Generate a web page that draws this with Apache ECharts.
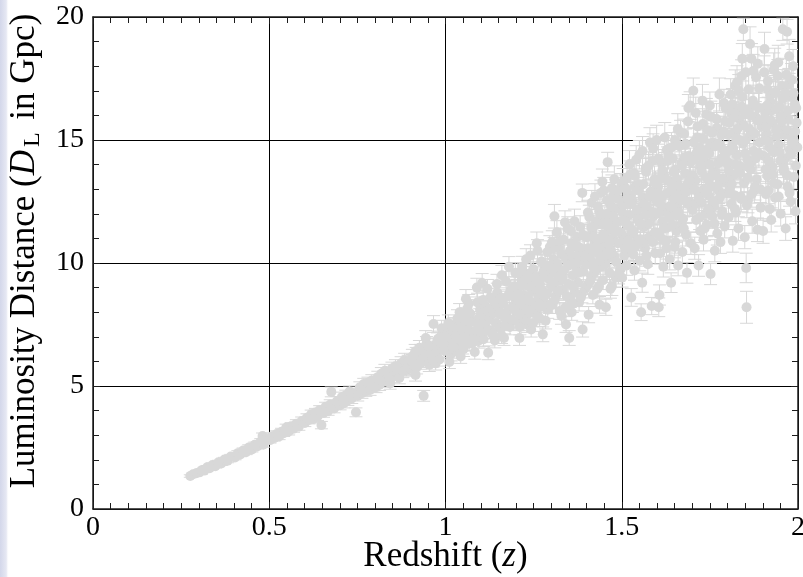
<!DOCTYPE html>
<html>
<head>
<meta charset="utf-8">
<script src="https://cdn.jsdelivr.net/npm/echarts@6/dist/echarts.min.js"></script>
<style>
  html, body { margin: 0; padding: 0; background: #ffffff; }
  #chart { width: 803px; height: 577px; }
</style>
</head>
<body>
<div id="chart"></div>
<script>
// Simulated standard-siren sample: redshift, luminosity distance (Gpc) and 1-sigma error.
const redshift = [
  0.276, 0.284, 0.293,
  0.302, 0.309, 0.316, 0.324, 0.331, 0.339, 0.347, 0.356, 0.364, 0.373, 0.382, 0.391,
  0.403, 0.411, 0.418, 0.426, 0.434, 0.442, 0.451, 0.459, 0.467, 0.476, 0.481, 0.484, 0.493,
  0.502, 0.508, 0.515, 0.521, 0.528, 0.535, 0.541, 0.548, 0.555, 0.562, 0.569, 0.577, 0.584, 0.592,
  0.601, 0.607, 0.613, 0.619, 0.625, 0.631, 0.637, 0.643, 0.648, 0.654, 0.660, 0.667, 0.673, 0.676, 0.684, 0.692,
  0.701, 0.706, 0.712, 0.717, 0.723, 0.728, 0.734, 0.740, 0.746, 0.751, 0.757, 0.763, 0.768, 0.774, 0.780, 0.786, 0.791, 0.797,
  0.803, 0.808, 0.813, 0.818, 0.823, 0.828, 0.833, 0.838, 0.843, 0.848, 0.853, 0.858, 0.864, 0.869, 0.874, 0.879, 0.884, 0.889, 0.894, 0.898,
  0.902, 0.906, 0.910, 0.914, 0.918, 0.922, 0.926, 0.930, 0.934, 0.938, 0.942, 0.946, 0.950, 0.954, 0.958, 0.962, 0.966, 0.970, 0.975, 0.979, 0.983, 0.987, 0.992, 0.996, 0.915, 0.944, 0.972, 0.989,
  1.002, 1.006, 1.009, 1.013, 1.016, 1.020, 1.024, 1.027, 1.031, 1.035, 1.038, 1.040, 1.045, 1.049, 1.052, 1.056, 1.060, 1.063, 1.067, 1.070, 1.074, 1.078, 1.081, 1.085, 1.089, 1.092, 1.095, 1.098, 1.011, 1.043, 1.066, 1.083, 1.104, 1.058,
  1.101, 1.105, 1.108, 1.112, 1.115, 1.118, 1.121, 1.124, 1.127, 1.131, 1.134, 1.137, 1.140, 1.144, 1.147, 1.150, 1.153, 1.157, 1.160, 1.163, 1.166, 1.170, 1.173, 1.176, 1.180, 1.183, 1.186, 1.190, 1.193, 1.197,
  1.201, 1.204, 1.207, 1.210, 1.213, 1.216, 1.219, 1.222, 1.225, 1.228, 1.231, 1.234, 1.237, 1.240, 1.243, 1.246, 1.249, 1.252, 1.255, 1.258, 1.261, 1.264, 1.267, 1.270, 1.273, 1.276, 1.280, 1.283, 1.287, 1.290, 1.293, 1.296,
  1.301, 1.304, 1.306, 1.309, 1.312, 1.315, 1.318, 1.321, 1.324, 1.327, 1.330, 1.333, 1.336, 1.339, 1.342, 1.345, 1.348, 1.351, 1.354, 1.357, 1.358, 1.361, 1.364, 1.367, 1.370, 1.373, 1.376, 1.379, 1.382, 1.385, 1.388, 1.389, 1.391, 1.394, 1.396, 1.399,
  1.401, 1.403, 1.406, 1.408, 1.411, 1.413, 1.416, 1.418, 1.421, 1.423, 1.426, 1.428, 1.431, 1.433, 1.436, 1.437, 1.440, 1.442, 1.445, 1.447, 1.450, 1.452, 1.455, 1.457, 1.460, 1.462, 1.465, 1.467, 1.470, 1.472, 1.475, 1.477, 1.480, 1.483, 1.486, 1.489, 1.493, 1.497,
  1.501, 1.503, 1.505, 1.507, 1.510, 1.512, 1.514, 1.517, 1.519, 1.521, 1.524, 1.527, 1.529, 1.531, 1.534, 1.536, 1.539, 1.541, 1.544, 1.546, 1.549, 1.551, 1.555, 1.558, 1.560, 1.563, 1.566, 1.568, 1.571, 1.574, 1.577, 1.580, 1.582, 1.585, 1.588, 1.590, 1.593, 1.595, 1.597, 1.599,
  1.601, 1.603, 1.605, 1.607, 1.609, 1.611, 1.614, 1.616, 1.618, 1.621, 1.623, 1.626, 1.628, 1.631, 1.633, 1.636, 1.638, 1.640, 1.643, 1.645, 1.648, 1.650, 1.653, 1.655, 1.658, 1.660, 1.663, 1.665, 1.667, 1.670, 1.672, 1.675, 1.677, 1.680, 1.682, 1.685, 1.687, 1.689, 1.691, 1.694, 1.696, 1.698,
  1.701, 1.703, 1.705, 1.707, 1.709, 1.711, 1.714, 1.716, 1.718, 1.720, 1.723, 1.725, 1.727, 1.730, 1.732, 1.734, 1.737, 1.739, 1.741, 1.744, 1.746, 1.748, 1.750, 1.752, 1.755, 1.757, 1.759, 1.762, 1.764, 1.766, 1.769, 1.771, 1.773, 1.776, 1.778, 1.780, 1.783, 1.785, 1.788, 1.790, 1.792, 1.794, 1.796, 1.798,
  1.801, 1.803, 1.805, 1.807, 1.809, 1.811, 1.813, 1.815, 1.818, 1.820, 1.822, 1.824, 1.826, 1.829, 1.831, 1.833, 1.835, 1.837, 1.840, 1.842, 1.844, 1.845, 1.847, 1.849, 1.851, 1.853, 1.854, 1.856, 1.858, 1.860, 1.862, 1.864, 1.866, 1.868, 1.870, 1.872, 1.874, 1.876, 1.879, 1.881, 1.883, 1.885, 1.888, 1.891, 1.894, 1.897,
  1.901, 1.903, 1.905, 1.907, 1.909, 1.911, 1.913, 1.915, 1.918, 1.920, 1.922, 1.924, 1.926, 1.928, 1.931, 1.933, 1.935, 1.937, 1.940, 1.942, 1.944, 1.946, 1.948, 1.951, 1.953, 1.955, 1.957, 1.959, 1.961, 1.963, 1.965, 1.967, 1.969, 1.971, 1.973, 1.975, 1.977, 1.979, 1.981, 1.983, 1.986, 1.988, 1.991, 1.993, 1.996, 1.998,
  // second batch of events, z > 1
  1.004, 1.018, 1.029, 1.047, 1.054, 1.072, 1.087, 1.097,
  1.103, 1.117, 1.129, 1.142, 1.155, 1.168, 1.181, 1.195,
  1.203, 1.209, 1.214, 1.221, 1.227, 1.232, 1.238, 1.244, 1.250, 1.256, 1.262, 1.268, 1.274, 1.281, 1.288, 1.295,
  1.302, 1.308, 1.314, 1.320, 1.326, 1.332, 1.338, 1.344, 1.350, 1.356, 1.362, 1.368, 1.375, 1.381, 1.387, 1.393,
  1.402, 1.409, 1.415, 1.422, 1.428, 1.434, 1.441, 1.447, 1.453, 1.459, 1.466, 1.472, 1.478, 1.484, 1.490, 1.496,
  1.502, 1.508, 1.515, 1.520, 1.526, 1.533, 1.538, 1.545, 1.550, 1.557, 1.562, 1.569, 1.575, 1.581, 1.587, 1.594,
  1.602, 1.608, 1.615, 1.620, 1.627, 1.632, 1.639, 1.644, 1.651, 1.657, 1.662, 1.669, 1.674, 1.681, 1.686, 1.693,
  1.702, 1.708, 1.715, 1.721, 1.728, 1.733, 1.740, 1.745, 1.751, 1.758, 1.763, 1.770, 1.775, 1.782, 1.787, 1.793,
  1.802, 1.808, 1.814, 1.819, 1.825, 1.832, 1.838, 1.843, 1.850, 1.855, 1.861, 1.867, 1.873, 1.878, 1.884, 1.890,
  1.902, 1.908, 1.914, 1.919, 1.925, 1.932, 1.938, 1.943, 1.950, 1.956, 1.962, 1.968, 1.974, 1.980, 1.987, 1.994,
  // third batch of events, z > 0.9
  0.905, 0.917, 0.929, 0.941, 0.953, 0.965, 0.977, 0.993,
  1.008, 1.022, 1.034, 1.051, 1.062, 1.076, 1.091, 1.099,
  1.107, 1.119, 1.133, 1.146, 1.159, 1.172, 1.185, 1.198,
  1.205, 1.211, 1.218, 1.224, 1.229, 1.236, 1.241, 1.248, 1.254, 1.259, 1.266, 1.271, 1.278, 1.284, 1.289, 1.298,
  1.303, 1.310, 1.316, 1.323, 1.329, 1.335, 1.341, 1.347, 1.353, 1.360, 1.366, 1.372, 1.378, 1.384, 1.390, 1.397,
  1.404, 1.410, 1.417, 1.424, 1.429, 1.435, 1.443, 1.449, 1.454, 1.461, 1.468, 1.474, 1.479, 1.485, 1.491, 1.498,
  1.504, 1.509, 1.516, 1.522, 1.528, 1.535, 1.540, 1.547, 1.553, 1.559, 1.565, 1.570, 1.576, 1.583, 1.589, 1.596,
  1.604, 1.610, 1.617, 1.622, 1.629, 1.635, 1.641, 1.646, 1.652, 1.659, 1.664, 1.671, 1.676, 1.683, 1.688, 1.695,
  1.704, 1.710, 1.717, 1.722, 1.729, 1.735, 1.742, 1.747, 1.753, 1.760, 1.765, 1.772, 1.777, 1.784, 1.789, 1.795,
  1.804, 1.810, 1.816, 1.821, 1.827, 1.834, 1.839, 1.846, 1.852, 1.857, 1.863, 1.869, 1.875, 1.880, 1.886, 1.893,
  1.904, 1.910, 1.916, 1.921, 1.927, 1.934, 1.939, 1.945, 1.952, 1.958, 1.964, 1.970, 1.976, 1.982, 1.989, 1.995,
  // fourth batch of events, z > 1.4
  1.405, 1.414, 1.420, 1.427, 1.432, 1.439, 1.446, 1.451, 1.458, 1.464, 1.476, 1.488,
  1.506, 1.513, 1.518, 1.525, 1.532, 1.537, 1.543, 1.552, 1.561, 1.567, 1.579, 1.591,
  1.606, 1.612, 1.619, 1.625, 1.630, 1.637, 1.647, 1.654, 1.661, 1.668, 1.679, 1.692,
  1.706, 1.713, 1.719, 1.726, 1.731, 1.738, 1.749, 1.756, 1.767, 1.774, 1.781, 1.791,
  1.806, 1.812, 1.817, 1.823, 1.828, 1.836, 1.841, 1.848, 1.859, 1.865, 1.877, 1.889,
  1.906, 1.912, 1.917, 1.923, 1.929, 1.936, 1.947, 1.954, 1.960, 1.972, 1.984, 1.992
];

const distance = [
  1.34, 1.41, 1.45,
  1.49, 1.58, 1.56, 1.70, 1.66, 1.79, 1.74, 1.90, 1.85, 2.01, 1.96, 2.13,
  2.09, 2.27, 2.22, 2.38, 2.31, 2.50, 2.42, 2.61, 2.55, 2.74, 2.97, 2.62, 2.85,
  2.80, 2.96, 2.89, 3.05, 2.95, 3.14, 3.08, 3.30, 3.15, 3.36, 3.26, 3.47, 3.35, 3.58,
  3.50, 3.71, 3.62, 3.85, 3.66, 3.92, 3.76, 4.02, 3.41, 3.90, 4.16, 3.98, 4.25, 4.76, 4.09, 4.38,
  4.22, 4.55, 4.30, 4.62, 4.41, 4.78, 4.49, 4.70, 3.93, 4.60, 4.95, 4.71, 5.08, 4.80, 5.13, 4.84, 5.22, 4.98,
  4.95, 5.36, 5.05, 5.50, 5.18, 5.62, 5.24, 5.45, 5.10, 5.71, 5.40, 5.80, 5.52, 5.33, 5.92, 5.60, 6.05, 5.66, 5.98, 5.72,
  5.70, 6.21, 5.82, 6.40, 5.75, 6.12, 6.55, 5.95, 6.33, 4.60, 6.02, 6.71, 6.18, 5.86, 6.52, 6.25, 7.52, 6.65, 6.30, 6.92, 6.08, 6.60, 7.05, 6.44, 5.45, 6.95, 5.92, 7.35,
  6.45, 7.10, 6.58, 7.32, 6.30, 6.92, 7.45, 6.70, 6.42, 7.20, 6.85, 8.00, 7.55, 6.60, 7.15, 7.78, 6.88, 7.40, 6.72, 7.95, 7.18, 6.95, 7.62, 7.05, 9.00, 7.50, 6.85, 8.10, 5.98, 6.20, 8.35, 6.38, 9.19, 8.55,
  7.10, 7.85, 6.90, 8.25, 7.40, 8.05, 6.35, 7.70, 8.60, 7.22, 7.95, 8.45, 6.85, 7.55, 8.80, 8.10, 7.35, 7.90, 9.50, 8.35, 6.95, 7.72, 8.62, 8.05, 9.85, 7.40, 8.92, 8.22, 7.65, 8.55,
  8.05, 8.95, 7.60, 6.95, 8.40, 9.30, 7.85, 8.70, 8.15, 9.55, 7.50, 8.55, 9.05, 8.00, 7.30, 8.85, 9.75, 8.30, 7.95, 9.20, 10.50, 8.60, 7.75, 9.45, 8.90, 7.10, 8.40, 9.90, 8.75, 8.10, 9.35, 10.65,
  9.05, 8.30, 10.15, 11.90, 9.60, 8.70, 9.95, 10.60, 8.05, 9.30, 10.35, 8.90, 9.70, 11.65, 7.50, 10.05, 9.15, 6.95, 8.55, 10.80, 8.00, 9.50, 10.25, 8.80, 9.85, 11.05, 9.20, 8.40, 11.46, 10.10, 12.85, 7.30, 9.65, 10.55, 8.95, 9.95,
  10.20, 9.10, 7.90, 11.87, 10.55, 9.45, 11.20, 8.70, 10.00, 10.85, 9.70, 11.55, 8.95, 10.40, 12.10, 8.30, 9.85, 10.95, 13.30, 9.30, 10.65, 11.80, 8.20, 10.15, 14.10, 11.35, 9.60, 12.40, 10.50, 9.05, 11.00, 12.75, 10.25, 9.40, 11.65, 10.80, 12.20, 9.75,
  9.40, 11.10, 12.35, 10.30, 13.05, 11.60, 9.90, 12.80, 10.75, 11.95, 13.60, 8.60, 10.50, 12.50, 11.30, 9.70, 12.00, 14.20, 10.95, 11.75, 13.20, 10.10, 8.00, 9.20, 12.65, 11.45, 10.60, 13.85, 12.20, 9.95, 11.05, 14.90, 12.90, 8.25, 10.85, 11.90, 13.40, 10.40, 12.55, 15.00,
  11.20, 13.10, 8.20, 8.70, 10.40, 12.35, 14.05, 11.70, 9.85, 13.55, 12.10, 10.90, 14.60, 11.45, 12.85, 10.15, 13.30, 9.20, 11.95, 14.25, 12.60, 10.65, 13.80, 11.30, 12.25, 9.90, 14.75, 13.05, 15.30, 11.60, 10.45, 12.70, 15.25, 13.65, 11.15, 9.60, 12.40, 16.30, 14.35, 16.40, 10.80, 13.00,
  12.15, 17.00, 14.20, 10.60, 13.35, 11.75, 15.10, 12.90, 9.90, 14.70, 11.30, 13.85, 12.45, 15.65, 10.95, 14.15, 12.00, 13.50, 11.55, 15.40, 12.75, 14.45, 16.40, 9.55, 13.10, 11.90, 14.90, 12.30, 10.50, 13.70, 15.85, 11.20, 14.05, 12.60, 13.40, 10.85, 15.20, 12.10, 14.60, 16.50, 11.50, 16.30, 13.25, 12.85,
  14.10, 11.85, 15.70, 13.05, 16.85, 12.40, 14.75, 10.90, 15.30, 13.60, 17.20, 12.05, 14.40, 16.20, 11.40, 13.95, 15.85, 12.70, 17.60, 18.30, 14.85, 19.50, 13.25, 11.05, 16.05, 9.80, 8.20, 14.20, 12.55, 17.05, 15.45, 18.90, 13.80, 18.30, 11.70, 16.60, 14.55, 12.95, 15.95, 17.55, 13.40, 11.35, 16.30, 14.90, 12.25, 15.55,
  11.30, 14.35, 18.70, 16.10, 12.80, 15.25, 13.55, 17.40, 14.95, 12.20, 16.55, 11.75, 15.70, 13.90, 17.85, 14.50, 12.65, 16.90, 15.15, 13.20, 18.15, 14.80, 16.35, 12.00, 15.50, 17.20, 19.50, 13.75, 16.00, 14.25, 11.40, 17.65, 19.40, 13.10, 15.85, 18.40, 14.60, 12.50, 16.75, 15.05, 18.00, 13.50, 16.45, 12.10, 15.70, 14.70,
  // second batch of events, z > 1
  6.95, 7.40, 7.00, 7.35, 6.95, 7.60, 7.25, 7.80,
  7.55, 7.25, 8.15, 8.35, 8.55, 7.45, 8.75, 9.05,
  8.60, 7.95, 9.10, 8.25, 7.70, 9.35, 8.45, 9.60, 8.10, 8.95, 7.85, 9.15, 10.05, 8.65, 9.55, 8.30,
  9.75, 10.60, 9.25, 8.85, 10.90, 9.40, 10.30, 8.65, 9.90, 11.30, 9.05, 10.70, 9.60, 10.45, 8.75, 11.10,
  11.05, 10.25, 12.45, 9.60, 11.70, 10.45, 12.85, 11.15, 9.95, 12.00, 10.90, 13.05, 11.50, 10.05, 12.60, 11.25,
  12.05, 10.95, 13.45, 11.50, 12.75, 10.35, 13.10, 11.85, 14.40, 12.30, 10.80, 13.70, 11.60, 12.85, 14.15, 11.25,
  12.85, 11.10, 13.75, 12.20, 10.60, 14.40, 12.95, 11.55, 15.00, 13.40, 12.05, 14.05, 11.80, 14.85, 13.20, 12.45,
  13.55, 12.40, 15.55, 11.85, 14.30, 13.00, 16.05, 12.20, 14.85, 13.65, 11.60, 15.50, 12.95, 14.25, 13.45, 15.75,
  15.20, 13.35, 16.45, 12.75, 15.05, 17.00, 13.90, 16.75, 14.45, 12.35, 16.25, 14.10, 17.80, 13.10, 15.80, 17.10,
  15.85, 13.80, 17.05, 14.70, 16.20, 13.25, 15.40, 17.60, 14.15, 16.70, 15.20, 13.60, 17.25, 14.40, 16.90, 13.95,
  // third batch of events, z > 0.9
  6.00, 6.28, 6.40, 6.35, 6.62, 6.05, 6.85, 6.70,
  7.55, 6.60, 7.75, 6.50, 8.15, 6.75, 8.40, 7.20,
  8.50, 8.95, 7.10, 9.15, 7.05, 9.25, 7.70, 9.60,
  9.60, 7.40, 9.85, 7.95, 10.15, 8.05, 10.30, 7.55, 9.40, 10.80, 8.20, 10.05, 9.65, 7.65, 10.45, 9.85,
  10.85, 8.50, 11.25, 9.45, 7.85, 10.95, 8.20, 11.40, 10.50, 8.35, 11.70, 10.00, 10.65, 8.60, 11.15, 10.30,
  12.05, 9.25, 11.40, 12.70, 10.70, 9.05, 11.95, 12.95, 10.35, 11.60, 8.95, 12.25, 13.40, 11.30, 9.55, 13.10,
  13.30, 10.60, 12.60, 14.00, 11.20, 13.65, 10.70, 12.95, 11.60, 14.55, 12.40, 10.30, 13.95, 12.10, 14.65, 13.20,
  14.25, 12.60, 10.95, 15.10, 13.35, 11.85, 14.70, 13.00, 10.85, 15.45, 12.80, 13.95, 11.40, 12.90, 15.75, 14.10,
  14.90, 16.10, 12.55, 13.95, 16.60, 11.40, 14.60, 13.35, 15.95, 12.50, 14.75, 13.15, 16.85, 11.95, 15.35, 14.10,
  13.75, 16.10, 14.65, 12.20, 17.35, 15.00, 12.60, 15.60, 17.75, 13.45, 15.15, 12.80, 16.45, 14.25, 18.10, 13.00,
  17.75, 15.55, 12.95, 16.80, 14.60, 18.05, 16.25, 12.70, 15.95, 14.05, 16.90, 15.40, 12.85, 17.45, 14.95, 16.30,
  // fourth batch of events, z > 1.4
  10.60, 11.45, 9.80, 11.00, 12.30, 10.10, 11.60, 10.30, 12.55, 10.75, 11.90, 12.95,
  11.75, 13.00, 10.90, 12.40, 11.25, 13.55, 12.15, 10.95, 13.20, 11.95, 12.70, 12.05,
  12.05, 13.45, 11.40, 12.80, 14.15, 12.30, 13.70, 11.95, 13.15, 12.55, 14.30, 13.35,
  13.00, 14.50, 12.65, 13.75, 15.05, 12.85, 14.00, 15.30, 13.55, 14.85, 12.75, 14.35,
  14.55, 13.20, 15.90, 14.00, 15.45, 13.65, 16.35, 14.95, 13.90, 16.00, 15.25, 14.45,
  15.00, 16.40, 14.15, 15.80, 13.60, 16.95, 14.50, 15.75, 13.85, 16.20, 14.85, 15.35
];

const distanceErr = [
  0.05, 0.06, 0.06,
  0.06, 0.06, 0.07, 0.07, 0.07, 0.08, 0.07, 0.08, 0.08, 0.09, 0.08, 0.09,
  0.09, 0.10, 0.09, 0.10, 0.10, 0.11, 0.10, 0.11, 0.11, 0.12, 0.12, 0.11, 0.12,
  0.12, 0.13, 0.12, 0.13, 0.13, 0.14, 0.13, 0.15, 0.14, 0.15, 0.14, 0.16, 0.15, 0.16,
  0.15, 0.16, 0.16, 0.17, 0.16, 0.17, 0.16, 0.18, 0.15, 0.17, 0.18, 0.17, 0.19, 0.20, 0.18, 0.19,
  0.19, 0.20, 0.19, 0.21, 0.20, 0.22, 0.20, 0.21, 0.18, 0.21, 0.22, 0.21, 0.23, 0.22, 0.23, 0.22, 0.24, 0.23,
  0.22, 0.24, 0.23, 0.25, 0.23, 0.26, 0.24, 0.25, 0.23, 0.26, 0.25, 0.27, 0.25, 0.24, 0.27, 0.26, 0.28, 0.26, 0.27, 0.26,
  0.26, 0.28, 0.26, 0.29, 0.26, 0.28, 0.30, 0.27, 0.29, 0.22, 0.27, 0.30, 0.28, 0.27, 0.30, 0.28, 0.34, 0.30, 0.28, 0.31, 0.27, 0.30, 0.32, 0.29, 0.25, 0.30, 0.27, 0.32,
  0.29, 0.32, 0.29, 0.33, 0.28, 0.31, 0.33, 0.30, 0.29, 0.32, 0.31, 0.35, 0.33, 0.30, 0.32, 0.34, 0.31, 0.33, 0.30, 0.35, 0.32, 0.31, 0.34, 0.32, 0.38, 0.33, 0.31, 0.36, 0.27, 0.28, 0.37, 0.29, 0.38, 0.37,
  0.31, 0.34, 0.30, 0.36, 0.32, 0.35, 0.28, 0.34, 0.37, 0.31, 0.34, 0.37, 0.30, 0.33, 0.38, 0.35, 0.32, 0.34, 0.40, 0.36, 0.30, 0.33, 0.37, 0.35, 0.41, 0.32, 0.38, 0.36, 0.33, 0.37,
  0.34, 0.38, 0.33, 0.30, 0.36, 0.40, 0.34, 0.37, 0.35, 0.41, 0.32, 0.37, 0.39, 0.35, 0.31, 0.38, 0.42, 0.36, 0.34, 0.39, 0.45, 0.37, 0.33, 0.40, 0.38, 0.30, 0.36, 0.42, 0.37, 0.35, 0.40, 0.46,
  0.38, 0.35, 0.42, 0.48, 0.40, 0.36, 0.41, 0.44, 0.34, 0.39, 0.43, 0.37, 0.40, 0.47, 0.32, 0.42, 0.38, 0.30, 0.36, 0.44, 0.33, 0.39, 0.42, 0.37, 0.41, 0.45, 0.38, 0.35, 0.46, 0.42, 0.36, 0.31, 0.40, 0.43, 0.37, 0.41,
  0.42, 0.38, 0.33, 0.48, 0.44, 0.39, 0.46, 0.36, 0.41, 0.45, 0.40, 0.47, 0.37, 0.43, 0.50, 0.34, 0.41, 0.45, 0.52, 0.38, 0.44, 0.48, 0.33, 0.42, 0.40, 0.47, 0.39, 0.51, 0.43, 0.37, 0.45, 0.52, 0.42, 0.39, 0.48, 0.44, 0.50, 0.40,
  0.38, 0.45, 0.50, 0.42, 0.53, 0.47, 0.40, 0.52, 0.44, 0.48, 0.55, 0.36, 0.43, 0.51, 0.46, 0.40, 0.49, 0.57, 0.45, 0.48, 0.53, 0.42, 0.34, 0.39, 0.51, 0.47, 0.44, 0.56, 0.50, 0.41, 0.45, 0.60, 0.52, 0.35, 0.44, 0.49, 0.54, 0.43, 0.51, 0.60,
  0.46, 0.53, 0.38, 0.41, 0.44, 0.50, 0.56, 0.47, 0.42, 0.54, 0.49, 0.45, 0.58, 0.47, 0.52, 0.43, 0.53, 0.40, 0.48, 0.57, 0.51, 0.44, 0.55, 0.46, 0.50, 0.42, 0.59, 0.52, 0.50, 0.47, 0.44, 0.51, 0.60, 0.54, 0.46, 0.42, 0.50, 0.55, 0.57, 0.56, 0.45, 0.52,
  0.50, 0.52, 0.58, 0.45, 0.54, 0.49, 0.60, 0.52, 0.44, 0.57, 0.47, 0.55, 0.51, 0.62, 0.46, 0.56, 0.50, 0.54, 0.48, 0.61, 0.52, 0.58, 0.55, 0.43, 0.53, 0.49, 0.59, 0.51, 0.45, 0.55, 0.63, 0.47, 0.56, 0.52, 0.54, 0.46, 0.60, 0.50, 0.58, 0.56, 0.48, 0.54, 0.53, 0.52,
  0.55, 0.49, 0.60, 0.53, 0.64, 0.50, 0.57, 0.46, 0.59, 0.54, 0.65, 0.50, 0.56, 0.62, 0.48, 0.55, 0.60, 0.52, 0.66, 0.62, 0.58, 0.45, 0.53, 0.47, 0.61, 0.60, 0.65, 0.56, 0.51, 0.64, 0.59, 0.70, 0.55, 0.62, 0.49, 0.63, 0.57, 0.52, 0.61, 0.66, 0.54, 0.48, 0.62, 0.58, 0.51, 0.60,
  0.50, 0.58, 0.68, 0.62, 0.52, 0.60, 0.55, 0.66, 0.59, 0.51, 0.63, 0.49, 0.61, 0.56, 0.69, 0.58, 0.53, 0.65, 0.60, 0.55, 0.70, 0.58, 0.63, 0.50, 0.61, 0.66, 0.45, 0.56, 0.62, 0.57, 0.48, 0.67, 0.50, 0.54, 0.62, 0.69, 0.59, 0.52, 0.64, 0.60, 0.68, 0.56, 0.63, 0.51, 0.61, 0.58,
  // second batch of events, z > 1
  0.31, 0.33, 0.31, 0.33, 0.31, 0.34, 0.32, 0.34,
  0.33, 0.32, 0.35, 0.36, 0.36, 0.33, 0.37, 0.38,
  0.36, 0.33, 0.38, 0.35, 0.33, 0.39, 0.36, 0.40, 0.34, 0.38, 0.33, 0.38, 0.42, 0.37, 0.40, 0.35,
  0.41, 0.44, 0.39, 0.37, 0.45, 0.40, 0.43, 0.37, 0.42, 0.47, 0.38, 0.44, 0.41, 0.44, 0.37, 0.46,
  0.45, 0.42, 0.50, 0.40, 0.47, 0.43, 0.52, 0.45, 0.41, 0.49, 0.44, 0.53, 0.46, 0.41, 0.51, 0.46,
  0.49, 0.45, 0.54, 0.47, 0.52, 0.43, 0.53, 0.48, 0.58, 0.50, 0.44, 0.55, 0.47, 0.52, 0.57, 0.46,
  0.52, 0.46, 0.56, 0.50, 0.44, 0.58, 0.53, 0.48, 0.60, 0.54, 0.49, 0.57, 0.48, 0.60, 0.54, 0.51,
  0.55, 0.51, 0.62, 0.49, 0.57, 0.53, 0.64, 0.50, 0.59, 0.55, 0.48, 0.62, 0.53, 0.57, 0.54, 0.63,
  0.60, 0.54, 0.64, 0.52, 0.60, 0.66, 0.56, 0.65, 0.58, 0.51, 0.64, 0.57, 0.68, 0.54, 0.62, 0.66,
  0.62, 0.56, 0.66, 0.59, 0.63, 0.54, 0.61, 0.67, 0.57, 0.65, 0.60, 0.55, 0.66, 0.58, 0.65, 0.56,
  // third batch of events, z > 0.9
  0.28, 0.29, 0.29, 0.29, 0.30, 0.28, 0.31, 0.30,
  0.34, 0.30, 0.35, 0.30, 0.36, 0.31, 0.37, 0.33,
  0.37, 0.38, 0.32, 0.39, 0.32, 0.40, 0.34, 0.41,
  0.41, 0.32, 0.42, 0.34, 0.43, 0.35, 0.44, 0.33, 0.40, 0.46, 0.36, 0.43, 0.41, 0.33, 0.45, 0.42,
  0.46, 0.36, 0.47, 0.40, 0.34, 0.46, 0.35, 0.48, 0.44, 0.36, 0.49, 0.42, 0.45, 0.37, 0.47, 0.44,
  0.50, 0.39, 0.47, 0.52, 0.45, 0.38, 0.49, 0.53, 0.43, 0.48, 0.38, 0.50, 0.55, 0.47, 0.40, 0.54,
  0.54, 0.44, 0.52, 0.57, 0.47, 0.55, 0.44, 0.53, 0.48, 0.59, 0.51, 0.43, 0.57, 0.50, 0.60, 0.54,
  0.58, 0.51, 0.45, 0.61, 0.54, 0.49, 0.60, 0.53, 0.45, 0.62, 0.52, 0.57, 0.47, 0.53, 0.63, 0.57,
  0.60, 0.64, 0.52, 0.57, 0.66, 0.48, 0.59, 0.55, 0.63, 0.52, 0.60, 0.54, 0.67, 0.50, 0.62, 0.58,
  0.56, 0.63, 0.59, 0.51, 0.67, 0.60, 0.52, 0.62, 0.68, 0.55, 0.61, 0.53, 0.64, 0.58, 0.69, 0.54,
  0.67, 0.61, 0.54, 0.65, 0.59, 0.68, 0.63, 0.53, 0.62, 0.58, 0.65, 0.60, 0.54, 0.66, 0.60, 0.63,
  // fourth batch of events, z > 1.4
  0.44, 0.47, 0.41, 0.45, 0.50, 0.42, 0.47, 0.43, 0.51, 0.44, 0.48, 0.52,
  0.48, 0.53, 0.45, 0.51, 0.46, 0.55, 0.50, 0.45, 0.54, 0.49, 0.52, 0.50,
  0.50, 0.55, 0.47, 0.52, 0.57, 0.50, 0.56, 0.49, 0.54, 0.51, 0.58, 0.54,
  0.53, 0.59, 0.52, 0.56, 0.61, 0.52, 0.57, 0.62, 0.55, 0.60, 0.52, 0.58,
  0.59, 0.54, 0.64, 0.57, 0.62, 0.55, 0.66, 0.60, 0.56, 0.64, 0.61, 0.58,
  0.60, 0.65, 0.57, 0.63, 0.55, 0.67, 0.58, 0.63, 0.56, 0.65, 0.60, 0.62
];

// Axis ranges and tick labels
const xRange = [0, 2];
const xStep = 0.5;
const xTickLabels = ['0', '0.5', '1', '1.5', '2'];
const yRange = [0, 20];
const yStep = 5;
const yTickLabels = ['0', '5', '10', '15', '20'];

const serif = "'Liberation Serif', 'Times New Roman', serif";
const markColor = '#d8d8d8';
const frameLine = { color: '#1c1c1c', width: 1.5 };

const n = Math.min(redshift.length, distance.length, distanceErr.length);
const samples = [];
for (let i = 0; i < n; i++) samples.push([redshift[i], distance[i], distanceErr[i]]);

function frameAxis(position, isX, withLabels) {
  const step = isX ? xStep : yStep;
  const labels = isX ? xTickLabels : yTickLabels;
  const start = isX ? xRange[0] : yRange[0];
  return {
    type: 'value',
    position: position,
    min: start,
    max: isX ? xRange[1] : yRange[1],
    interval: step,
    axisLine: { show: true, onZero: false, lineStyle: frameLine },
    axisTick: { show: true, inside: true, length: 7, lineStyle: { color: '#1c1c1c', width: 1 } },
    minorTick: { show: true, splitNumber: isX ? 10 : 5, length: 6, lineStyle: { color: '#1c1c1c', width: 1 } },
    splitLine: { show: withLabels, lineStyle: { color: '#000000', width: 1 } },
    axisLabel: {
      show: withLabels,
      fontFamily: serif,
      fontSize: 28,
      color: '#000000',
      margin: isX ? 5 : 9,
      formatter: function (v) { return labels[Math.round((v - start) / step)]; }
    }
  };
}

const xBottom = Object.assign(frameAxis('bottom', true, true), {
  name: '{r|Redshift (}{i|z}{r|)}',
  nameLocation: 'middle',
  nameGap: 30,
  nameMoveOverlap: false,
  nameTextStyle: {
    rich: {
      r: { fontFamily: serif, fontSize: 35, color: '#000' },
      i: { fontFamily: serif, fontSize: 35, fontStyle: 'italic', color: '#000' }
    }
  }
});
const xTop = frameAxis('top', true, false);
const yLeft = Object.assign(frameAxis('left', false, true), {
  name: '{p|Luminosity Distance (}{i|D}{s|L}{r| in Gpc)}',
  nameLocation: 'middle',
  nameRotate: 90,
  nameGap: 34,
  nameTextStyle: {
    rich: {
      p: { fontFamily: serif, fontSize: 35, lineHeight: 40, color: '#000', padding: [0, 0, 0, 24] },
      r: { fontFamily: serif, fontSize: 35, lineHeight: 40, color: '#000' },
      i: { fontFamily: serif, fontSize: 35, lineHeight: 40, fontStyle: 'italic', color: '#000' },
      s: { fontFamily: serif, fontSize: 24, lineHeight: 24, color: '#000', verticalAlign: 'bottom', padding: [14, 4, 0, 3] }
    }
  }
});
const yRight = frameAxis('right', false, false);

const chart = echarts.init(document.getElementById('chart'), null, { renderer: 'canvas' });

chart.setOption({
  animation: false,
  backgroundColor: '#ffffff',
  graphic: [{
    type: 'rect',
    left: 0,
    top: 0,
    shape: { width: 9, height: 577 },
    style: {
      fill: new echarts.graphic.LinearGradient(0, 0, 1, 0, [
        { offset: 0, color: '#d3d7ea' },
        { offset: 0.7, color: '#e6e8f3' },
        { offset: 1, color: 'rgba(255,255,255,0)' }
      ])
    },
    silent: true
  }],
  grid: { left: 93, right: 5, top: 17, bottom: 68, containLabel: false, outerBoundsMode: 'none' },
  xAxis: [xBottom, xTop],
  yAxis: [yLeft, yRight],
  series: [
    {
      name: 'error',
      type: 'custom',
      xAxisIndex: 0,
      yAxisIndex: 0,
      clip: true,
      data: samples,
      encode: { x: 0, y: 1 },
      renderItem: function (params, api) {
        const z = api.value(0);
        const d = api.value(1);
        const e = api.value(2);
        const hi = api.coord([z, d + e]);
        const lo = api.coord([z, d - e]);
        const cap = 6.5;
        const st = { stroke: markColor, lineWidth: 1 };
        return {
          type: 'group',
          children: [
            { type: 'line', shape: { x1: hi[0], y1: hi[1], x2: lo[0], y2: lo[1] }, style: st },
            { type: 'line', shape: { x1: hi[0] - cap, y1: hi[1], x2: hi[0] + cap, y2: hi[1] }, style: st },
            { type: 'line', shape: { x1: lo[0] - cap, y1: lo[1], x2: lo[0] + cap, y2: lo[1] }, style: st }
          ]
        };
      },
      silent: true,
      z: 2
    },
    {
      name: 'D_L',
      type: 'scatter',
      xAxisIndex: 0,
      yAxisIndex: 0,
      data: samples.map(function (p) { return [p[0], p[1]]; }),
      symbol: 'circle',
      symbolSize: 10,
      itemStyle: { color: markColor, opacity: 1 },
      silent: true,
      z: 3
    }
  ]
});
</script>
</body>
</html>
